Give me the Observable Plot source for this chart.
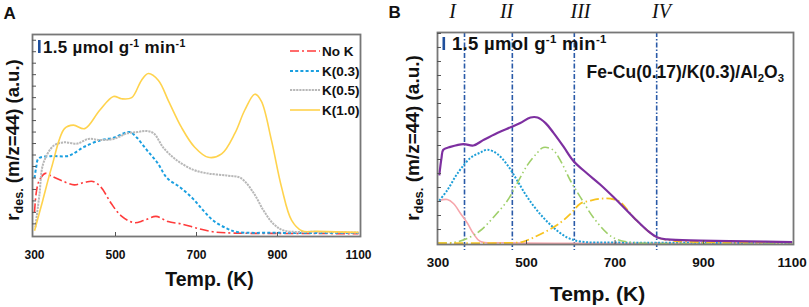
<!DOCTYPE html>
<html><head><meta charset="utf-8">
<script src="https://cdn.jsdelivr.net/npm/d3@7"></script>
<script src="https://cdn.jsdelivr.net/npm/@observablehq/plot@0.6"></script>
<style>
body{margin:0;background:#fff;}
#wrap{position:relative;width:809px;height:307px;overflow:hidden;}
#a{position:absolute;left:0;top:0;}
#b{position:absolute;left:400px;top:0;}
</style></head><body><div id="wrap"><div id="a"></div><div id="b"></div></div>
<script>
// ---------- Panel A data ----------
const tempNoK = [300,305,312,327,340,365,398,422,444,464,489,514,546,570,600,630,662,704,743,790,900,1100];
const rateNoK = [2.0,3.9,4.8,5.4,5.2,4.8,4.4,4.6,4.7,4.2,2.8,1.7,1.1,1.3,1.65,1.2,1.0,0.6,0.3,0.2,0.17,0.15];
const tempK03 = [300,304,310,340,380,395,422,464,495,521,536,553,578,604,627,659,691,716,741,775,800,900,1100];
const rateK03 = [5.0,5.9,6.7,6.9,6.9,7.1,7.7,8.3,8.5,8.9,9.0,8.5,7.4,6.3,5.0,4.2,3.2,2.2,1.3,0.6,0.3,0.22,0.2];
const tempK05 = [302,312,322,347,372,406,433,463,495,530,554,574,594,619,653,693,727,777,809,841,865,890,915,1000,1100];
const rateK05 = [0.7,3.5,6.3,7.8,8.1,8.0,8.4,8.3,8.4,8.9,9.0,9.1,8.9,7.6,6.5,5.7,5.4,5.2,5.0,3.7,2.2,1.0,0.43,0.3,0.25];
const tempK10 = [300,320,342,374,396,424,461,495,515,540,564,581,606,631,663,695,729,762,795,819,844,860,885,910,935,960,1000,1100];
const rateK10 = [0.4,3.0,5.9,9.3,9.6,9.3,10.9,12.1,11.9,12.0,13.5,14.1,13.5,11.7,9.4,7.7,6.8,7.1,8.9,10.9,12.3,11.7,8.3,4.2,1.3,0.4,0.35,0.26];
const seriesNamesA = ["No K","K(0.3)","K(0.5)","K(1.0)"];

// ---------- Panel B data ----------
const tempTotal = [303,308,312,328,358,380,403,434,464,486,509,525,543,561,584,606,637,667,697,742,773,796,818,893,1000,1100];
const rateTotal = [4.86,6.1,6.7,6.9,7.1,7.0,7.4,7.9,8.3,8.6,9.0,9.0,8.6,7.9,6.9,5.9,5.0,4.2,3.3,1.86,0.93,0.43,0.29,0.21,0.15,0.1];
const tempPeakI = [303,321,335,351,367,380,396,450,1100];
const ratePeakI = [3.07,3.14,2.86,2.14,1.43,0.71,0.14,0.05,0.05];
const tempPeakII = [303,321,344,373,396,412,434,457,479,502,531,561,592,622,700,1100];
const ratePeakII = [3.07,3.8,5.0,6.1,6.5,6.7,6.4,5.6,4.5,3.3,2.1,1.14,0.43,0.14,0.07,0.05];
const tempPeakIII = [300,335,366,396,425,457,479,502,525,538,559,577,599,622,651,683,705,740,1100];
const ratePeakIII = [0.03,0.07,0.36,0.93,1.86,3.07,4.3,5.6,6.5,6.86,6.7,5.9,4.5,3.3,1.86,0.71,0.29,0.07,0.05];
const tempPeakIV = [300,480,493,516,548,577,600,622,645,667,690,710,742,773,796,830,900,1100];
const ratePeakIV = [0.03,0.07,0.14,0.43,0.93,1.5,2.14,2.86,3.07,3.2,3.2,3.0,1.86,0.93,0.43,0.2,0.1,0.08];
const regionBounds = [360,468,608,794];
const regionLabels = ["I","II","III","IV"];
const regionLabelTemps = [333,455,622,805];

const xTickLabels = [300,500,700,900,1100];
const xMinorTicks = [500,700,900];
const sampleName = "Fe-Cu(0.17)/K(0.3)/Al";

// ---------- styles ----------
const stylesA = [
  {stroke:"#ff3b3b", strokeWidth:1.6, strokeDasharray:"9,3,2,3"},
  {stroke:"#1a9fe0", strokeWidth:2, strokeDasharray:"3,2.2"},
  {stroke:"#b8b8b8", strokeWidth:2, strokeDasharray:"2.2,0.9"},
  {stroke:"#ffd34d", strokeWidth:1.6, strokeDasharray:null}
];
const stylesB = [
  {stroke:"#f6a5ab", strokeWidth:1.6, strokeDasharray:null},
  {stroke:"#1e9fd8", strokeWidth:2, strokeDasharray:"2,1.6"},
  {stroke:"#9fcf6a", strokeWidth:1.6, strokeDasharray:"9,3,1.5,3,1.5,3"},
  {stroke:"#f7c320", strokeWidth:1.8, strokeDasharray:"9,3,1.5,3"},
  {stroke:"#7d2fa0", strokeWidth:2.2, strokeDasharray:null}
];
const SANS = "Liberation Sans, Arial, sans-serif";
const zip = (t, r) => t.map((x,i) => ({t:x, r:r[i]}));

const dataA = [zip(tempNoK,rateNoK), zip(tempK03,rateK03), zip(tempK05,rateK05), zip(tempK10,rateK10)];
const dataB = [zip(tempPeakI,ratePeakI), zip(tempPeakII,ratePeakII), zip(tempPeakIII,ratePeakIII), zip(tempPeakIV,ratePeakIV), zip(tempTotal,rateTotal)];

function commonAxes(yMax, tickFont, tickPad){
  return [
    Plot.axisY(d3.range(1, Math.floor(yMax)+1), {tickSize:4, dx:4, tickFormat:()=>"", label:null, stroke:"#555"}),
    Plot.axisX(xMinorTicks, {tickSize:4, dy:-4, tickFormat:()=>"", label:null, stroke:"#555"}),
    Plot.axisX(xTickLabels, {tickSize:0, tickPadding:tickPad, tickFormat:d=>String(d), fontSize:tickFont, fontWeight:"bold", label:null, fill:"#111"})
  ];
}

// ---------- Panel A ----------
const plotA = Plot.plot({
  width:400, height:307,
  marginLeft:32, marginRight:40, marginTop:34, marginBottom:71,
  x:{domain:[295,1105]},
  y:{domain:[-0.1,17.5]},
  style:{fontFamily:SANS, background:"white", overflow:"visible"},
  marks:[
    ...dataA.map((d,i) => Plot.line(d, {x:"t", y:"r", curve:"catmull-rom", strokeLinecap:"butt", ...stylesA[i]})),
    Plot.frame({stroke:"#777", strokeWidth:1.8}),
    ...commonAxes(17.5, 12, 14),
    Plot.text(["Temp. (K)"], {frameAnchor:"bottom", dx:13, dy:49, lineAnchor:"bottom", fontSize:19.5, fontWeight:"bold", fill:"#111"}),
    Plot.text(["A"], {frameAnchor:"top-left", textAnchor:"start", dx:-29, dy:-16, lineAnchor:"bottom", fontSize:17, fontWeight:"bold", fill:"#111"})
  ]
});
document.getElementById("a").append(plotA);

// ---------- Panel B ----------
const plotB = Plot.plot({
  width:409, height:307,
  marginLeft:37, marginRight:16, marginTop:32, marginBottom:63,
  x:{domain:[299,1103]},
  y:{domain:[-0.07,15.07]},
  style:{fontFamily:SANS, background:"white", overflow:"visible"},
  marks:[
    Plot.ruleX(regionBounds, {stroke:"#2a5aa8", strokeWidth:1.6, strokeDasharray:"5,2,1.5,2", strokeLinecap:"butt", insetBottom:-6}),
    ...dataB.map((d,i) => Plot.line(d, {x:"t", y:"r", curve:"catmull-rom", strokeLinecap:"butt", ...stylesB[i]})),
    Plot.frame({stroke:"#777", strokeWidth:1.8}),
    ...commonAxes(15.07, 13.5, 13),
    Plot.text(regionLabels, {x:regionLabelTemps, text:d=>d, frameAnchor:"top", dy:-15, lineAnchor:"bottom", fontSize:20, fontStyle:"italic", fontFamily:"Liberation Serif, Times New Roman, serif", fill:"#111"}),
    Plot.text(["Temp. (K)"], {frameAnchor:"bottom", dx:-18, dy:56, lineAnchor:"bottom", fontSize:21, fontWeight:"bold", fill:"#111"}),
    Plot.text(["B"], {frameAnchor:"top-left", textAnchor:"start", dx:-49, dy:-15, lineAnchor:"bottom", fontSize:17, fontWeight:"bold", fill:"#111"})
  ]
});
document.getElementById("b").append(plotB);

// ---------- decorations with sub/superscripts ----------
function yLabel(svg, x, y, size){
  const t = d3.select(svg).append("text")
    .attr("transform", `translate(${x},${y}) rotate(-90)`)
    .attr("text-anchor","middle").attr("font-family",SANS)
    .attr("font-weight","bold").attr("font-size",size).attr("fill","#111");
  t.append("tspan").text("r");
  t.append("tspan").attr("font-size",size*0.68).attr("dy",size*0.22).text("des.");
  t.append("tspan").attr("dy",-size*0.22).text(" (m/z=44) (a.u.)");
}
function rateNote(svg, barX, barY1, barY2, x, y, size){
  const s = d3.select(svg);
  s.append("rect").attr("x",barX).attr("y",barY1).attr("width",2.6).attr("height",barY2-barY1).attr("fill","#1f4f9c");
  const t = s.append("text").attr("x",x).attr("y",y).attr("text-anchor","start").attr("font-family",SANS)
    .attr("font-weight","bold").attr("font-size",size).attr("letter-spacing",0.3).attr("fill","#111");
  t.append("tspan").text("1.5 µmol g");
  t.append("tspan").attr("font-size",size*0.62).attr("dy",-size*0.38).text("-1");
  t.append("tspan").attr("dy",size*0.38).text(" min");
  t.append("tspan").attr("font-size",size*0.62).attr("dy",-size*0.38).text("-1");
}
yLabel(plotA, 19, 140, 18.5);
yLabel(plotB, 19, 138, 19);
rateNote(plotA, 38, 40, 53, 43, 53, 17);
rateNote(plotB, 42.5, 37, 50, 52, 50, 18.5);

// sample formula in panel B
(function(){
  const size = 17.5;
  const t = d3.select(plotB).append("text").attr("x",384).attr("y",78).attr("text-anchor","end")
    .attr("font-family",SANS).attr("font-weight","bold").attr("font-size",size).attr("fill","#111");
  t.append("tspan").text(sampleName);
  t.append("tspan").attr("font-size",size*0.65).attr("dy",size*0.25).text("2");
  t.append("tspan").attr("dy",-size*0.25).text("O");
  t.append("tspan").attr("font-size",size*0.65).attr("dy",size*0.25).text("3");
})();

// legend in panel A
(function(){
  const s = d3.select(plotA);
  const rows = [51,71,90,110];
  seriesNamesA.forEach((name,i) => {
    const st = stylesA[i];
    s.append("line").attr("x1",290).attr("x2",320).attr("y1",rows[i]).attr("y2",rows[i])
      .attr("stroke",st.stroke).attr("stroke-width",st.strokeWidth)
      .attr("stroke-dasharray",st.strokeDasharray);
    s.append("text").attr("x",322).attr("y",rows[i]+4.8).attr("text-anchor","start").attr("font-family",SANS)
      .attr("font-weight","bold").attr("font-size",13.5).attr("fill","#111").text(name);
  });
})();
</script>
</body></html>
